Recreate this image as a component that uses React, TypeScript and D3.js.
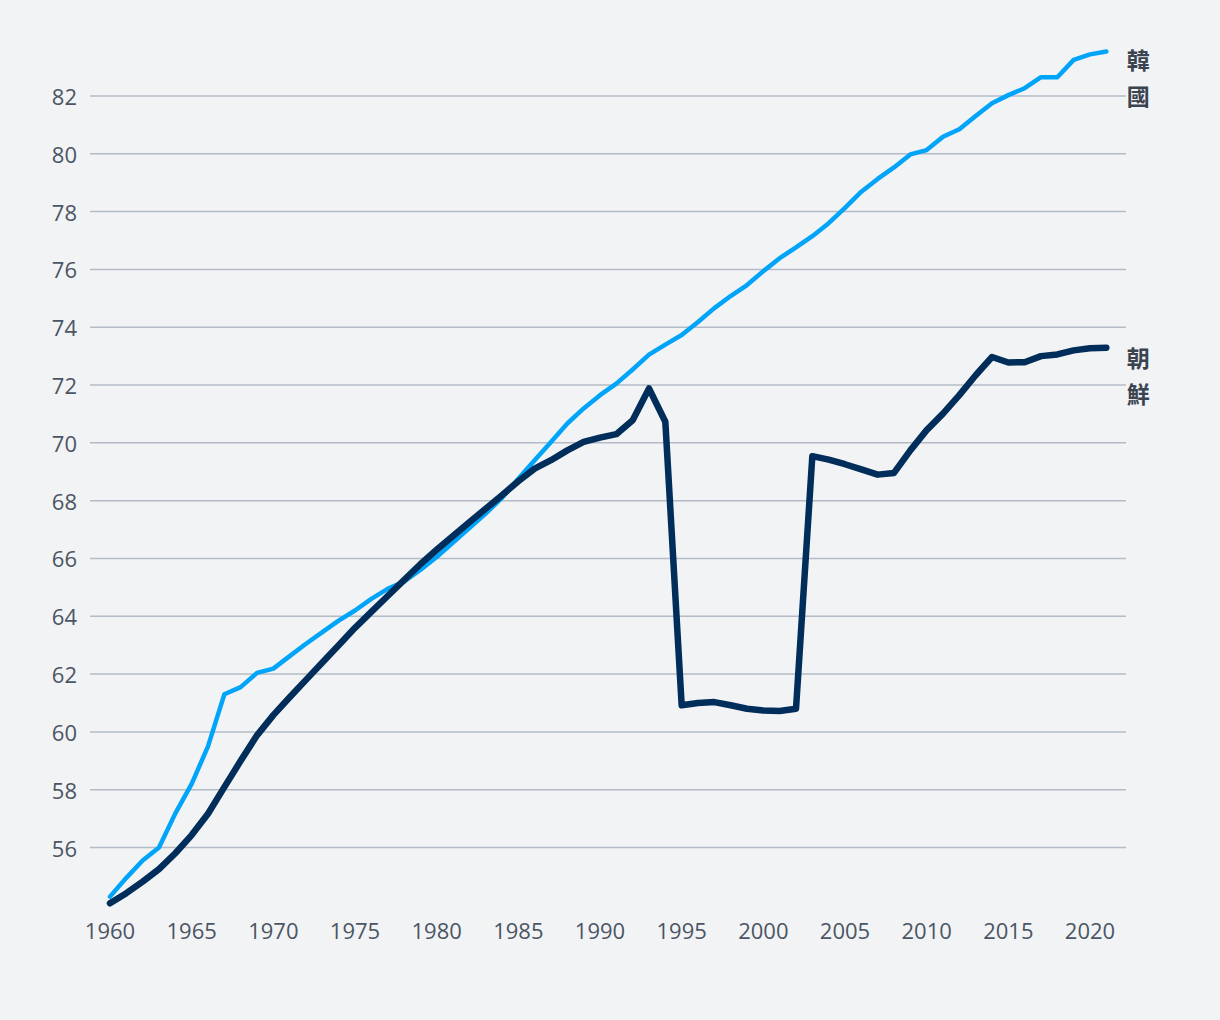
import React from "react";
import * as d3 from "d3";

const years: number[] = d3.range(1960, 2022);

const southKorea: number[] = [
  54.3, 54.95, 55.55, 56.0, 57.18, 58.2, 59.5, 61.3, 61.55, 62.04,
  62.19, 62.62, 63.05, 63.45, 63.85, 64.2, 64.6, 64.95, 65.2, 65.6,
  66.05, 66.55, 67.05, 67.55, 68.1, 68.76, 69.4, 70.03, 70.67, 71.19,
  71.65, 72.05, 72.54, 73.05, 73.4, 73.73, 74.18, 74.66, 75.08, 75.46,
  75.94, 76.39, 76.76, 77.15, 77.6, 78.13, 78.69, 79.13, 79.53, 79.98,
  80.13, 80.59, 80.85, 81.31, 81.75, 82.03, 82.27, 82.65, 82.65, 83.25,
  83.44, 83.54,
];

const northKorea: number[] = [
  54.07, 54.42, 54.82, 55.25, 55.8, 56.43, 57.17, 58.09, 59.0, 59.88,
  60.58, 61.2, 61.8, 62.4, 63.0, 63.6, 64.15, 64.7, 65.25, 65.8,
  66.3, 66.78, 67.25, 67.72, 68.19, 68.67, 69.11, 69.4, 69.74, 70.03,
  70.18, 70.3, 70.78, 71.88, 70.73, 60.92, 61.0, 61.03, 60.92, 60.8,
  60.74, 60.72, 60.8, 69.54, 69.42, 69.26, 69.08, 68.9, 68.96, 69.74,
  70.44, 71.01, 71.65, 72.34, 72.97, 72.78, 72.79, 73.0, 73.06, 73.2,
  73.27, 73.29,
];

const yTicks: number[] = [56, 58, 60, 62, 64, 66, 68, 70, 72, 74, 76, 78, 80, 82];
const xTicks: number[] = [1960, 1965, 1970, 1975, 1980, 1985, 1990, 1995, 2000, 2005, 2010, 2015, 2020];

const labelSK: string[] = ["韓", "國"];
const labelNK: string[] = ["朝", "鮮"];

const W = 1220;
const H = 1020;
const FONT = "'Open Sans', 'Noto Sans', sans-serif";
const CJK = "'Noto Sans CJK TC', 'Noto Sans CJK SC', sans-serif";

export default function App() {
  const x = d3.scaleLinear().domain([1960, 2020]).range([110, 1090]);
  const y = d3.scaleLinear().domain([56, 82]).range([847.5, 96]);

  const line = d3
    .line<number>()
    .x((_, i) => x(years[i]))
    .y((d) => y(d))
    .curve(d3.curveLinear);

  const lastX = x(years[years.length - 1]);
  const skEnd = y(southKorea[southKorea.length - 1]);
  const nkEnd = y(northKorea[northKorea.length - 1]);

  return (
    <svg
      width={W}
      height={H}
      style={{ position: "absolute", left: 0, top: 0, background: "#f2f3f5" }}
    >
      <rect x={0} y={0} width={W} height={H} fill="#f2f3f5" />
      {yTicks.map((t) => (
        <g key={t}>
          <line x1={90} x2={1126} y1={y(t)} y2={y(t)} stroke="#b3bcc6" strokeWidth={1.5} />
          <text
            x={77}
            y={y(t)}
            textAnchor="end"
            dominantBaseline="central"
            fontFamily={FONT}
            fontSize={22}
            fill="#4b5563"
          >
            {t}
          </text>
        </g>
      ))}
      {xTicks.map((t) => (
        <text
          key={t}
          x={x(t)}
          y={930}
          textAnchor="middle"
          dominantBaseline="central"
          fontFamily={FONT}
          fontSize={22}
          fill="#4b5563"
        >
          {t}
        </text>
      ))}
      <path
        d={line(southKorea) || ""}
        fill="none"
        stroke="#00a4f9"
        strokeWidth={4.5}
        strokeLinejoin="round"
        strokeLinecap="round"
      />
      <path
        d={line(northKorea) || ""}
        fill="none"
        stroke="#002d59"
        strokeWidth={6.5}
        strokeLinejoin="round"
        strokeLinecap="round"
      />
      {labelSK.map((c, i) => (
        <text
          key={"sk" + i}
          x={lastX + 32}
          y={skEnd + 8 + i * 36}
          textAnchor="middle"
          dominantBaseline="central"
          fontFamily={CJK}
          fontWeight={700}
          fontSize={23}
          fill="#3a4450"
        >
          {c}
        </text>
      ))}
      {labelNK.map((c, i) => (
        <text
          key={"nk" + i}
          x={lastX + 32}
          y={nkEnd + 9 + i * 36}
          textAnchor="middle"
          dominantBaseline="central"
          fontFamily={CJK}
          fontWeight={700}
          fontSize={23}
          fill="#3a4450"
        >
          {c}
        </text>
      ))}
    </svg>
  );
}
